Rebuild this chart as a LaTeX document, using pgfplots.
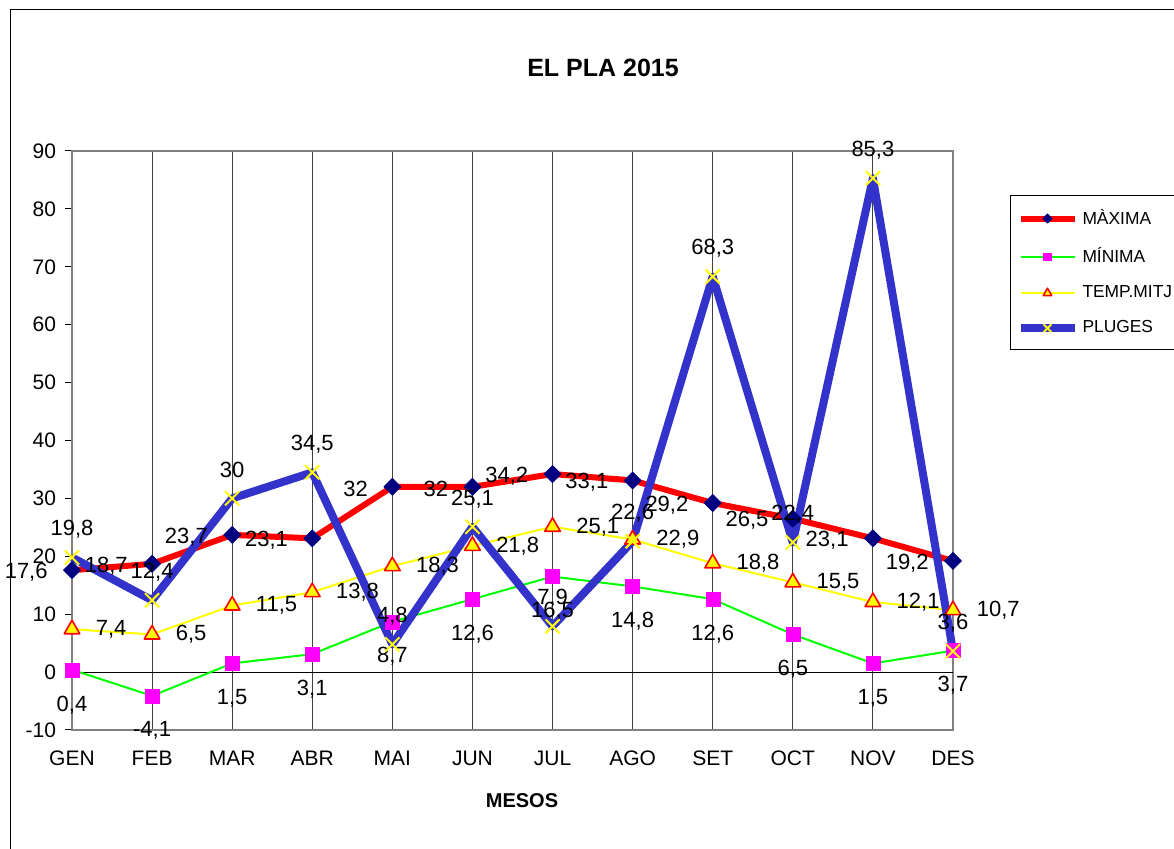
\documentclass[border=0pt]{standalone}
\usepackage{pgfplots}
\pgfplotsset{compat=1.18}
\usepackage{fontspec}
\setmainfont{Liberation Sans}
\definecolor{maxred}{RGB}{255,0,0}
\definecolor{navymk}{RGB}{0,0,128}
\definecolor{mingreen}{RGB}{0,255,0}
\definecolor{minmag}{RGB}{255,0,255}
\definecolor{mitjyel}{RGB}{255,255,0}
\definecolor{plublue}{RGB}{51,51,204}
\definecolor{axgray}{RGB}{128,128,128}
\begin{document}
\begin{tikzpicture}
\path[use as bounding box] (0,0) rectangle (587pt,-424.5pt);
\draw[black,line width=0.5pt] (5pt,-440pt) -- (5pt,-5pt) -- (600pt,-5pt);
\begin{axis}[
 at={(36pt,-365pt)}, anchor=south west,
 scale only axis, width=440.5pt, height=289.5pt,
 xmin=0, xmax=11, ymin=-10, ymax=90,
 xtick={0,...,11},
 xticklabels={GEN,FEB,MAR,ABR,MAI,JUN,JUL,AGO,SET,OCT,NOV,DES},
 ytick={-10,0,10,20,30,40,50,60,70,80,90},
 ytick pos=left,
 axis line style={draw=axgray, line width=1.2pt},
 xmajorgrids, major grid style={black!75, line width=0.5pt},
 x tick style={draw=none}, y tick style={black, line width=0.5pt},
 tick align=outside, major tick length=3.5pt,
 /pgf/number format/assume math mode=true,
 /pgf/number format/use comma,
 ticklabel style={font=\fontsize{10.5}{12}\selectfont},
 yticklabel style={xshift=-1pt},
 xticklabel style={yshift=-3.5pt},
 clip=false,
 legend style={at={(1.0647,0.924)}, anchor=north west, draw=black, line width=0.5pt,
   font=\fontsize{8.7}{10}\selectfont, row sep=6pt, inner xsep=3pt, inner ysep=5pt,
   cells={anchor=west, text width=52pt}},
 legend image code/.code={\draw[mark repeat=2, mark phase=2, #1, every mark/.append style={scale=0.55}] plot coordinates {(0pt,0pt) (13.5pt,0pt) (27pt,0pt)};},
 every node near coord/.append style={text=black, inner sep=0pt, font=\fontsize{11}{13}\selectfont},
]
\draw[black, line width=0.5pt] (axis cs:0,0) -- (axis cs:11,0);
\addplot[color=maxred, line width=3pt, line join=round, mark=square*, mark size=3pt,
  mark options={solid, rotate=45, fill=navymk, draw=navymk, line width=0.4pt},
  nodes near coords, every node near coord/.append style={anchor=east, xshift=-12pt, yshift=-1pt}]
  coordinates {(0,17.6) (1,18.7) (2,23.7) (3,23.1) (4,32) (5,32) (6,34.2) (7,33.1) (8,29.2) (9,26.5) (10,23.1) (11,19.2)};
\addplot[color=mingreen, line width=1pt, line join=round, mark=square*, mark size=3.5pt,
  mark options={solid, fill=minmag, draw=minmag, line width=0.2pt},
  nodes near coords, every node near coord/.append style={anchor=center, yshift=-17.5pt}]
  coordinates {(0,0.4) (1,-4.1) (2,1.5) (3,3.1) (4,8.7) (5,12.6) (6,16.5) (7,14.8) (8,12.6) (9,6.5) (10,1.5) (11,3.7)};
\addplot[color=mitjyel, line width=1pt, line join=round, mark=triangle*, mark size=4.5pt,
  mark options={solid, fill=mitjyel, draw=maxred, line width=0.8pt},
  nodes near coords, every node near coord/.append style={anchor=west, xshift=11.5pt}]
  coordinates {(0,7.4) (1,6.5) (2,11.5) (3,13.8) (4,18.3) (5,21.8) (6,25.1) (7,22.9) (8,18.8) (9,15.5) (10,12.1) (11,10.7)};
\addplot[color=plublue, line width=4pt, line join=round, mark=x, mark size=5pt,
  mark options={solid, draw=mitjyel, line width=1pt},
  nodes near coords, every node near coord/.append style={anchor=center, yshift=14pt}]
  coordinates {(0,19.8) (1,12.4) (2,30) (3,34.5) (4,4.8) (5,25.1) (6,7.9) (7,22.6) (8,68.3) (9,22.4) (10,85.3) (11,3.6)};
\legend{MÀXIMA, MÍNIMA, TEMP.MITJ, PLUGES}
\end{axis}
\node[font=\bfseries\fontsize{12.5}{15}\selectfont] at (301.5pt,-34pt) {EL PLA 2015};
\node[font=\bfseries\fontsize{10}{12}\selectfont] at (261pt,-400.5pt) {MESOS};
\end{tikzpicture}
\end{document}
